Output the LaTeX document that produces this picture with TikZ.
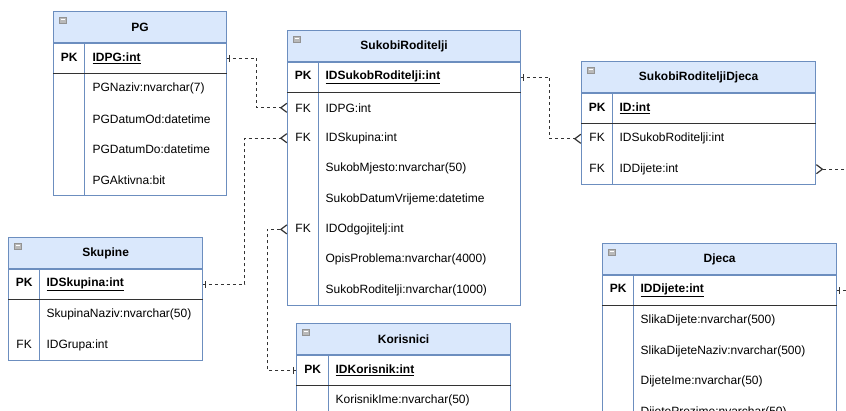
\documentclass[tikz,border=0pt]{standalone}
\usepackage{fontspec}
\setmainfont{Liberation Sans}
\usetikzlibrary{positioning, calc, arrows.meta, decorations.markings}
\definecolor{erline}{HTML}{6C8EBF}
\definecolor{erhead}{HTML}{DAE8FC}
\definecolor{erlink}{HTML}{333333}

\begin{document}
\begin{tikzpicture}[x=1pt, y=-1pt, node distance=0pt,
    every node/.style={font=\fontsize{12}{14}\selectfont},
    head/.style={draw=erline, line width=1.2pt, fill=erhead, anchor=north west, minimum width=#1, minimum height=31pt, inner sep=0pt, font=\fontsize{12}{14}\selectfont\bfseries},
    row/.style={text width=#1, minimum height=30pt, inner sep=0pt, align=left},
    box/.style={draw=erline, line width=1.2pt},
    pkline/.style={draw=black!80, line width=1.5pt},
    icon/.style={draw=gray!85, fill=gray!55, line width=0.5pt, minimum width=7pt, minimum height=6pt, inner sep=0pt,
        path picture={\draw[white, line width=1pt] ([xshift=1.5pt]path picture bounding box.west) -- ([xshift=-1.5pt]path picture bounding box.east);}},
    link/.style={draw=erlink, line width=1.2pt, dash pattern=on 3pt off 3pt},
    many/.style={-{Straight Barb[reversed, length=6pt, width=9pt]}},
    one/.style={postaction={decorate}, decoration={markings, mark=at position 3pt with {\draw[-, solid, erlink, line width=1.2pt] (0pt,-3.5pt) -- (0pt,3.5pt);}}}]
        \useasboundingbox (0,0) rectangle (846,411);
        \clip (0,0) rectangle (846,411);

        % PG
        \node[head=173pt] (pg) at (53,11) {PG};
        \node[icon] (pg-ico) at ($(pg.north west)+(9.5,9)$) {};
        \node[row=173pt, below=of pg] (pg-pk) {\makebox[31pt]{\textbf{PK}}\hspace{8pt}\textbf{\underline{IDPG:int}}};
        \node[row=173pt, below=of pg-pk] (pg-1) {\hspace{39pt}PGNaziv:nvarchar(7)};
        \node[row=173pt, below=of pg-1] (pg-2) {\hspace{39pt}PGDatumOd:datetime};
        \node[row=173pt, below=of pg-2] (pg-3) {\hspace{39pt}PGDatumDo:datetime};
        \node[row=173pt, below=of pg-3] (pg-4) {\hspace{39pt}PGAktivna:bit};
        \draw[box] (pg-pk.north west) rectangle (pg-4.south east);
        \draw[box] ($(pg-pk.north west)+(31,0)$) -- ($(pg-4.south west)+(31,0)$);
        \draw[pkline] (pg-pk.south west) -- (pg-pk.south east);

        % SukobiRoditelji
        \node[head=233pt] (sr) at (287,30) {SukobiRoditelji};
        \node[icon] (sr-ico) at ($(sr.north west)+(9.5,9)$) {};
        \node[row=233pt, below=of sr] (sr-pk) {\makebox[31pt]{\textbf{PK}}\hspace{7pt}\textbf{\underline{IDSukobRoditelji:int}}};
        \node[row=233pt, below=of sr-pk] (sr-1) {\makebox[31pt]{FK}\hspace{7pt}IDPG:int};
        \node[row=233pt, below=of sr-1] (sr-2) {\makebox[31pt]{FK}\hspace{7pt}IDSkupina:int};
        \node[row=233pt, below=of sr-2] (sr-3) {\hspace{38pt}SukobMjesto:nvarchar(50)};
        \node[row=233pt, below=of sr-3] (sr-4) {\hspace{38pt}SukobDatumVrijeme:datetime};
        \node[row=233pt, below=of sr-4] (sr-5) {\makebox[31pt]{FK}\hspace{7pt}IDOdgojitelj:int};
        \node[row=233pt, below=of sr-5] (sr-6) {\hspace{38pt}OpisProblema:nvarchar(4000)};
        \node[row=233pt, below=of sr-6] (sr-7) {\hspace{38pt}SukobRoditelji:nvarchar(1000)};
        \draw[box] (sr-pk.north west) rectangle (sr-7.south east);
        \draw[box] ($(sr-pk.north west)+(31,0)$) -- ($(sr-7.south west)+(31,0)$);
        \draw[pkline] (sr-pk.south west) -- (sr-pk.south east);

        % SukobiRoditeljiDjeca
        \node[head=234pt] (srd) at (581,61) {SukobiRoditeljiDjeca};
        \node[icon] (srd-ico) at ($(srd.north west)+(9.5,9)$) {};
        \node[row=234pt, below=of srd] (srd-pk) {\makebox[31pt]{\textbf{PK}}\hspace{7pt}\textbf{\underline{ID:int}}};
        \node[row=234pt, below=of srd-pk] (srd-1) {\makebox[31pt]{FK}\hspace{7pt}IDSukobRoditelji:int};
        \node[row=234pt, below=of srd-1] (srd-2) {\makebox[31pt]{FK}\hspace{7pt}IDDijete:int};
        \draw[box] (srd-pk.north west) rectangle (srd-2.south east);
        \draw[box] ($(srd-pk.north west)+(31,0)$) -- ($(srd-2.south west)+(31,0)$);
        \draw[pkline] (srd-pk.south west) -- (srd-pk.south east);

        % Skupine
        \node[head=194pt] (sk) at (8,237) {Skupine};
        \node[icon] (sk-ico) at ($(sk.north west)+(9.5,9)$) {};
        \node[row=194pt, below=of sk] (sk-pk) {\makebox[31pt]{\textbf{PK}}\hspace{7pt}\textbf{\underline{IDSkupina:int}}};
        \node[row=194pt, below=of sk-pk] (sk-1) {\hspace{38pt}SkupinaNaziv:nvarchar(50)};
        \node[row=194pt, below=of sk-1] (sk-2) {\makebox[31pt]{FK}\hspace{7pt}IDGrupa:int};
        \draw[box] (sk-pk.north west) rectangle (sk-2.south east);
        \draw[box] ($(sk-pk.north west)+(31,0)$) -- ($(sk-2.south west)+(31,0)$);
        \draw[pkline] (sk-pk.south west) -- (sk-pk.south east);

        % Korisnici
        \node[head=214pt] (ko) at (296,323) {Korisnici};
        \node[icon] (ko-ico) at ($(ko.north west)+(9.5,9)$) {};
        \node[row=214pt, below=of ko] (ko-pk) {\makebox[32pt]{\textbf{PK}}\hspace{7pt}\textbf{\underline{IDKorisnik:int}}};
        \node[row=214pt, below=of ko-pk] (ko-1) {\hspace{39pt}KorisnikIme:nvarchar(50)};
        \draw[box] (ko-pk.north west) rectangle (ko-1.south east);
        \draw[box] ($(ko-pk.north west)+(32,0)$) -- ($(ko-1.south west)+(32,0)$);
        \draw[pkline] (ko-pk.south west) -- (ko-pk.south east);

        % Djeca
        \node[head=234pt] (dj) at (602,243) {Djeca};
        \node[icon] (dj-ico) at ($(dj.north west)+(9.5,9)$) {};
        \node[row=234pt, below=of dj] (dj-pk) {\makebox[31pt]{\textbf{PK}}\hspace{7pt}\textbf{\underline{IDDijete:int}}};
        \node[row=234pt, below=of dj-pk] (dj-1) {\hspace{38pt}SlikaDijete:nvarchar(500)};
        \node[row=234pt, below=of dj-1] (dj-2) {\hspace{38pt}SlikaDijeteNaziv:nvarchar(500)};
        \node[row=234pt, below=of dj-2] (dj-3) {\hspace{38pt}DijeteIme:nvarchar(50)};
        \node[row=234pt, below=of dj-3] (dj-4) {\hspace{38pt}DijetePrezime:nvarchar(50)};
        \draw[box] (dj-pk.north west) rectangle (dj-4.south east);
        \draw[box] ($(dj-pk.north west)+(31,0)$) -- ($(dj-4.south west)+(31,0)$);
        \draw[pkline] (dj-pk.south west) -- (dj-pk.south east);

        % relations
        \draw[link, one, many] (pg-pk.east) -- ++(30,0) |- (sr-1.west);
        \draw[link, one, many] (sk-pk.east) -- ++(42,0) |- (sr-2.west);
        \draw[link, one, many] (ko-pk.west) -- ++(-29,0) |- (sr-5.west);
        \draw[link, one, many] (sr-pk.east) -- ++(29,0) |- (srd-1.west);
        \draw[link, one, many] (dj-pk.east) -- ++(24,0) |- (srd-2.east);
    \end{tikzpicture}
\end{document}
